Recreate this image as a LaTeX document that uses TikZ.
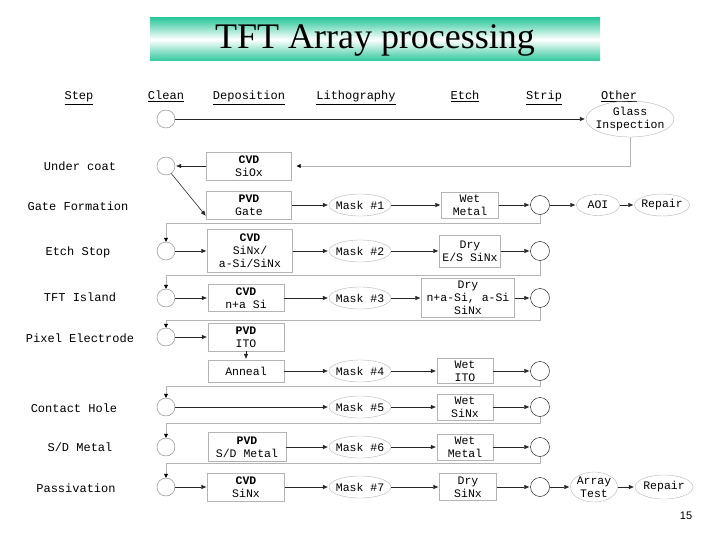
\documentclass[tikz,border=0pt]{standalone}
\usepackage{fontspec}
\setmainfont{Liberation Serif}
\newfontfamily\monofont{Liberation Mono}
\newfontfamily\pagefont{Liberation Sans}
\usepackage{tikz}
\usetikzlibrary{arrows.meta, calc, shapes.geometric}
\definecolor{titleteal}{HTML}{2EC89C}
\definecolor{linegray}{HTML}{B4B4B4}

\begin{document}
\begin{tikzpicture}[x=1pt, y=-1pt,
  every node/.style={font=\monofont\fontsize{11.5}{13}\selectfont},
  clean/.style={circle, draw=gray, minimum size=18pt, inner sep=0pt},
  strip/.style={circle, draw, minimum size=19pt, inner sep=0pt},
  procbox/.style={draw=linegray, align=center, inner sep=1pt},
  oval/.style={ellipse, draw=linegray, align=center, inner xsep=-4pt, inner ysep=-2pt},
  flow/.style={black!85, line width=0.6pt, shorten >=1pt, -{Triangle[length=5pt,width=4pt]}},
  back/.style={linegray, line width=0.6pt, -{Triangle[length=4pt,width=4pt,black]}}]
\useasboundingbox (0,0) rectangle (720,540);

% title bar
\shade[top color=titleteal, bottom color=titleteal, middle color=white] (150,18) rectangle (600,61);
\node[font=\fontsize{36}{40}\selectfont] (title) at (375,40) {TFT Array processing};

% column heads and step names
\foreach \x/\t in {79/Step, 166/Clean, 249/Deposition, 356/Lithography, 465/Etch, 544/Strip, 619/Other}
  \node[anchor=base, font=\monofont\fontsize{12}{14}\selectfont] (h\t) at (\x,100) {\underline{\t}};
\foreach \x/\y/\t [count=\i] in {80/166/Under coat, 78/206/Gate Formation, 78/252/Etch Stop,
    80/297/TFT Island, 80/338/Pixel Electrode, 74/408/Contact Hole, 80/447/{S/D Metal}, 76/488/Passivation}
  \node[font=\monofont\fontsize{12}{14}\selectfont] (lab\i) at (\x,\y) {\t};

% clean and strip circles, masks
\foreach \i/\y in {0/119, 1/166, 2/251, 3/298, 4/337, 5/407, 6/447, 7/487}
  \node[clean] (c\i) at (166,\y) {};
\foreach \i/\y in {1/205, 2/251, 3/298, 4/371, 5/407, 6/447, 7/487}
  \node[strip] (s\i) at (540,\y) {};
\foreach \i/\y in {1/205, 2/251, 3/298, 4/371, 5/407, 6/447, 7/487}
  \node[oval, minimum width=62pt, minimum height=22pt] (m\i) at (360,\y) {Mask \#\i};

% deposition
\node[procbox, minimum width=85pt, minimum height=28pt] (uc) at (249,166) {\bfseries CVD\\SiOx};
\node[procbox, minimum width=85pt, minimum height=28pt] (d1) at (249,205) {\bfseries PVD\\Gate};
\node[procbox, minimum width=85pt, minimum height=43pt] (d2) at (250,251) {\bfseries CVD\\SiNx/\\a-Si/SiNx};
\node[procbox, minimum width=76pt, minimum height=27pt] (d3) at (246,298) {\bfseries CVD\\n+a Si};
\node[procbox, minimum width=76pt, minimum height=28pt] (d4) at (246,337) {\bfseries PVD\\ITO};
\node[procbox, minimum width=76pt, minimum height=22pt] (ann) at (246,371) {Anneal};
\node[procbox, minimum width=78pt, minimum height=29pt] (d6) at (247,447) {\bfseries PVD\\S/D Metal};
\node[procbox, minimum width=77pt, minimum height=28pt] (d7) at (246,487) {\bfseries CVD\\SiNx};

% etch
\node[procbox, minimum width=57pt, minimum height=26pt] (e1) at (470,205) {Wet\\Metal};
\node[procbox, minimum width=61pt, minimum height=32pt] (e2) at (470,251) {Dry\\E/S SiNx};
\node[procbox, minimum width=93pt, minimum height=39pt] (e3) at (468,298) {Dry\\n+a-Si, a-Si\\SiNx};
\node[procbox, minimum width=56pt, minimum height=25pt] (e4) at (465,371) {Wet\\ITO};
\node[procbox, minimum width=56pt, minimum height=26pt] (e5) at (465,407) {Wet\\SiNx};
\node[procbox, minimum width=56pt, minimum height=26pt] (e6) at (465,447) {Wet\\Metal};
\node[procbox, minimum width=57pt, minimum height=27pt] (e7) at (468,487) {Dry\\SiNx};

% other
\node[oval, minimum width=88pt, minimum height=36pt] (glass) at (630,119) {Glass\\Inspection};
\node[oval, minimum width=43pt, minimum height=21pt] (aoi) at (598,205) {AOI};
\node[oval, minimum width=55pt, minimum height=22pt] (rep1) at (662,205) {Repair};
\node[oval, minimum width=47pt, minimum height=30pt] (test) at (594,487) {Array\\Test};
\node[oval, minimum width=58pt, minimum height=24pt] (rep2) at (664,487) {Repair};

% flow
\draw[flow, line width=0.9pt] (c0) -- (glass);
\draw[back, shorten >=5pt] (glass.south) |- (uc.east);
\draw[flow] (c1.-55) -- (d1.195);
\foreach \a/\b in {uc/c1, d1/m1, m1/e1, e1/s1, s1/aoi, aoi/rep1,
    c2/d2, d2/m2, m2/e2, e2/s2, c3/d3, d3/m3, m3/e3, e3/s3,
    c4/d4, d4/ann, ann/m4, m4/e4, e4/s4, c5/m5, m5/e5, e5/s5,
    d6/m6, m6/e6, e6/s6, c7/d7, d7/m7, m7/e7, e7/s7, s7/test, test/rep2}
  \draw[flow] (\a) -- (\b);

% back to the next clean
\foreach \a/\b/\y in {1/2/223, 2/3/275, 3/4/320, 4/5/386, 5/6/423, 6/7/463}
  \draw[back] (s\a.south) -- (s\a.south |- 0,\y) -| (c\b.north);

\node[font=\pagefont\fontsize{11}{13}\selectfont] (pg) at (686,516) {15};
\end{tikzpicture}
\end{document}
